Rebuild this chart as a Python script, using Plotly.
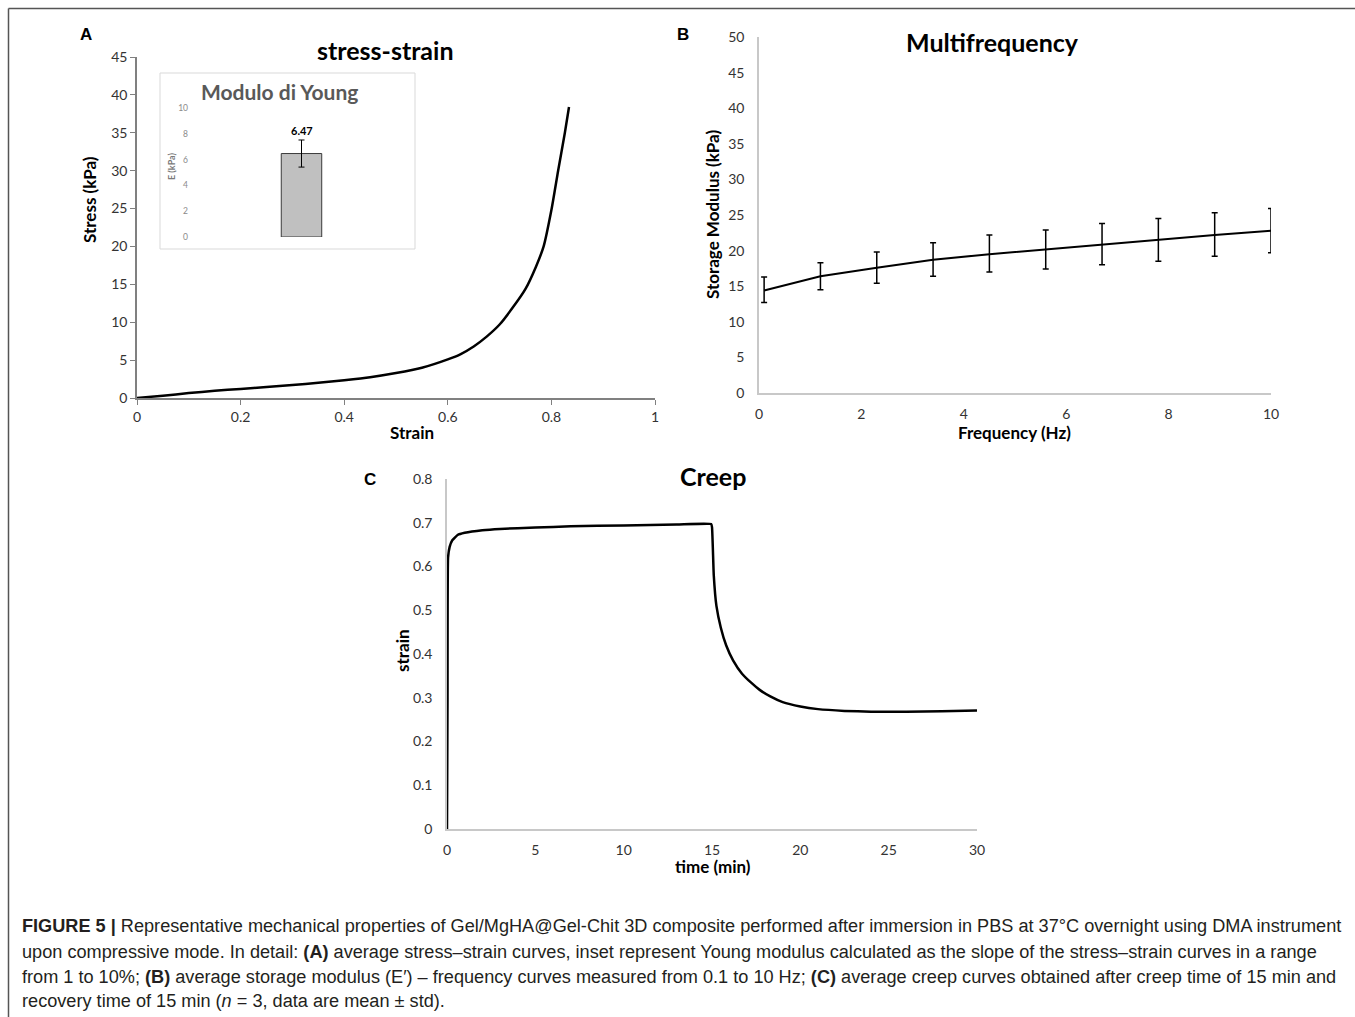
import plotly.graph_objects as go

W, H = 1355, 1017

# ---------------- data ----------------
# Panel A: stress-strain
strain_a = [0, 0.05, 0.1, 0.15, 0.2, 0.25, 0.3, 0.35, 0.4, 0.45, 0.5, 0.55, 0.6,
            0.625, 0.65, 0.675, 0.7, 0.725, 0.75, 0.77, 0.785, 0.8, 0.813, 0.826, 0.834]
stress_a = [0, 0.3, 0.65, 0.95, 1.2, 1.45, 1.7, 2.0, 2.35, 2.75, 3.3, 4.0, 5.1,
            5.8, 6.8, 8.1, 9.7, 11.9, 14.4, 17.3, 20.0, 24.8, 30.0, 35.0, 38.4]

# Inset: Young modulus
young_val = [6.47]
young_err = [1.05]

# Panel B: multifrequency
freq_b = [0.1, 1.2, 2.3, 3.4, 4.5, 5.6, 6.7, 7.8, 8.9, 10.0]
mod_b = [14.4, 16.4, 17.6, 18.7, 19.5, 20.2, 20.9, 21.6, 22.2, 22.8]
mod_b_upper = [16.3, 18.3, 19.8, 21.1, 22.2, 22.9, 23.8, 24.5, 25.3, 25.9]
mod_b_lower = [12.7, 14.5, 15.4, 16.4, 17.0, 17.4, 18.0, 18.5, 19.2, 19.7]

# Panel C: creep
time_c = [0.0, 0.03, 0.06, 0.15, 0.3, 0.6, 1.0, 2.0, 3.0, 5.0, 7.0, 10.0, 13.0, 14.95,
          15.0, 15.1, 15.25, 15.5, 15.8, 16.2, 16.7, 17.2, 17.7, 18.3, 19.0, 20.0,
          21.0, 22.5, 24.0, 26.0, 28.0, 30.0]
strain_c = [0.0, 0.3, 0.62, 0.645, 0.66, 0.672, 0.677, 0.683, 0.686, 0.689, 0.692,
            0.694, 0.696, 0.697, 0.69, 0.58, 0.51, 0.46, 0.42, 0.385, 0.355, 0.335,
            0.318, 0.303, 0.29, 0.28, 0.274, 0.27, 0.268, 0.268, 0.269, 0.271]

caption_lines = [
    "<b>FIGURE 5 |</b> Representative mechanical properties of Gel/MgHA@Gel-Chit 3D composite performed after immersion in PBS at 37°C overnight using DMA instrument",
    "upon compressive mode. In detail: <b>(A)</b> average stress–strain curves, inset represent Young modulus calculated as the slope of the stress–strain curves in a range",
    "from 1 to 10%; <b>(B)</b> average storage modulus (E′) – frequency curves measured from 0.1 to 10 Hz; <b>(C)</b> average creep curves obtained after creep time of 15 min and",
    "recovery time of 15 min (<i>n</i> = 3, data are mean ± std).",
]

# ---------------- helpers ----------------
def px(x):
    return x / W

def py(y):
    return 1 - y / H

FONT = "Lato"
TICKC = "#333333"

fig = go.Figure()

fig.add_trace(go.Scatter(x=strain_a, y=stress_a, mode="lines",
                         line=dict(color="black", width=2.5, shape="spline", smoothing=0.6),
                         xaxis="x", yaxis="y", showlegend=False))

fig.add_trace(go.Bar(x=[0], y=young_val, width=0.19,
                     marker=dict(color="#c0c0c0", line=dict(color="#3a3a3a", width=1)),
                     error_y=dict(type="data", array=young_err, color="black", thickness=1, width=3),
                     xaxis="x4", yaxis="y4", showlegend=False))

fig.add_trace(go.Scatter(x=freq_b, y=mod_b, mode="lines",
                         line=dict(color="black", width=2),
                         error_y=dict(type="data", symmetric=False,
                                      array=[u - m for u, m in zip(mod_b_upper, mod_b)],
                                      arrayminus=[m - l for m, l in zip(mod_b, mod_b_lower)],
                                      color="black", thickness=1.5, width=3),
                         xaxis="x2", yaxis="y2", showlegend=False))

fig.add_trace(go.Scatter(x=time_c, y=strain_c, mode="lines",
                         line=dict(color="black", width=2.5, shape="spline", smoothing=0.4),
                         xaxis="x3", yaxis="y3", showlegend=False))

tickfont = dict(family=FONT, size=14, color=TICKC)

fig.update_layout(
    autosize=True, margin=dict(l=0, r=0, t=0, b=0, autoexpand=False),
    paper_bgcolor="white", plot_bgcolor="rgba(0,0,0,0)",
    showlegend=False,
    # Panel A
    xaxis=dict(domain=[px(137), px(655)], range=[0, 1], tickvals=[0, 0.2, 0.4, 0.6, 0.8, 1],
               ticktext=["0", "0.2", "0.4", "0.6", "0.8", "1"],
               showgrid=False, zeroline=False, showline=True, linecolor="#808080", linewidth=1.5,
               ticks="outside", ticklen=5, tickcolor="#808080", tickfont=tickfont, anchor="y"),
    yaxis=dict(domain=[py(398), py(57)], range=[0, 45], dtick=5,
               showgrid=False, zeroline=False, showline=True, linecolor="#808080", linewidth=1.5,
               ticks="outside", ticklen=5, tickcolor="#808080", tickfont=tickfont, anchor="x"),
    # Panel B
    xaxis2=dict(domain=[px(759), px(1271)], range=[0, 10], dtick=2,
                showgrid=False, zeroline=False, showline=True, linecolor="#c8c8c8", linewidth=1.5,
                ticks="", tickfont=tickfont, anchor="y2", ticklabelstandoff=7),
    yaxis2=dict(domain=[py(393), py(37)], range=[0, 50], dtick=5,
                showgrid=False, zeroline=False, showline=True, linecolor="#c8c8c8", linewidth=1.5,
                ticks="", tickfont=tickfont, anchor="x2", ticklabelstandoff=10),
    # Panel C
    xaxis3=dict(domain=[px(447), px(977)], range=[0, 30], dtick=5,
                showgrid=False, zeroline=False, showline=True, linecolor="#c8c8c8", linewidth=1.5,
                ticks="", tickfont=tickfont, anchor="y3", ticklabelstandoff=7),
    yaxis3=dict(domain=[py(829), py(479)], range=[0, 0.8],
                tickvals=[0, 0.1, 0.2, 0.3, 0.4, 0.5, 0.6, 0.7, 0.8],
                ticktext=["0", "0.1", "0.2", "0.3", "0.4", "0.5", "0.6", "0.7", "0.8"],
                showgrid=False, zeroline=False, showline=True, linecolor="#c8c8c8", linewidth=1.5,
                ticks="", tickfont=tickfont, anchor="x3", ticklabelstandoff=10),
    # Inset
    xaxis4=dict(domain=[px(195), px(408)], range=[-0.5, 0.5], showticklabels=False,
                showgrid=False, zeroline=False, showline=False, anchor="y4"),
    yaxis4=dict(domain=[py(237), py(108)], range=[0, 10], dtick=2,
                showgrid=False, zeroline=False, showline=False,
                tickfont=dict(family=FONT, size=8.5, color="#8a8a8a"), anchor="x4",
                ticklabelstandoff=6),
)

shapes = [
    # inset frame
    dict(type="rect", xref="paper", yref="paper", x0=px(160), x1=px(415), y0=py(249), y1=py(73),
         line=dict(color="#d9d9d9", width=1), fillcolor="rgba(0,0,0,0)", layer="below"),
    # outer figure border (top and left)
    dict(type="line", xref="paper", yref="paper", x0=px(8.5), x1=1, y0=py(8.5), y1=py(8.5),
         line=dict(color="#555555", width=1.5)),
    dict(type="line", xref="paper", yref="paper", x0=px(8.5), x1=px(8.5), y0=py(8.5), y1=0,
         line=dict(color="#555555", width=1.5)),
]
fig.update_layout(shapes=shapes)

def ann(text, x, y, size, color="black", bold=False, angle=0, family=FONT, xanchor="center"):
    return dict(text=f"<b>{text}</b>" if bold else text, x=px(x), y=py(y),
                xref="paper", yref="paper", showarrow=False, textangle=angle,
                xanchor=xanchor, yanchor="middle",
                font=dict(family=family, size=size, color=color))

annotations = [
    ann("A", 86, 35, 17, bold=True, family="Liberation Sans"),
    ann("B", 683, 35, 17, bold=True, family="Liberation Sans"),
    ann("C", 370, 479, 17, bold=True, family="Liberation Sans"),
    ann("stress-strain", 385, 50, 25, bold=True),
    ann("Multifrequency", 993, 42, 25, bold=True),
    ann("Creep", 713, 476, 25, bold=True),
    ann("Stress (kPa)", 89, 200, 17, bold=True, angle=-90),
    ann("Strain", 412, 433, 17, bold=True),
    ann("Storage Modulus (kPa)", 712, 215, 17, bold=True, angle=-90),
    ann("Frequency (Hz)", 1015, 433, 17, bold=True),
    ann("strain", 402, 650, 17, bold=True, angle=-90),
    ann("time (min)", 713, 866, 17, bold=True),
    ann("Modulo di Young", 279, 91, 21, color="#595959", bold=True),
    ann("E (kPa)", 171, 167, 9, color="#7a7a7a", bold=True, angle=-90),
    ann("6.47", 301.5, 130, 11, bold=True),
]
cap_y = [926, 952, 977, 1001]
for line, yy in zip(caption_lines, cap_y):
    annotations.append(ann(line, 20, yy, 18.15, color="#231f20", family="Liberation Sans", xanchor="left"))

fig.update_layout(annotations=annotations)

# Pin the plot div to the top-left corner of the page so the default body margin
# cannot push it out of the 1355x1017 window.
fig.write_html("out.html",
               default_width=f"{W}px;position:fixed;left:0;top:0",
               default_height=f"{H}px")
